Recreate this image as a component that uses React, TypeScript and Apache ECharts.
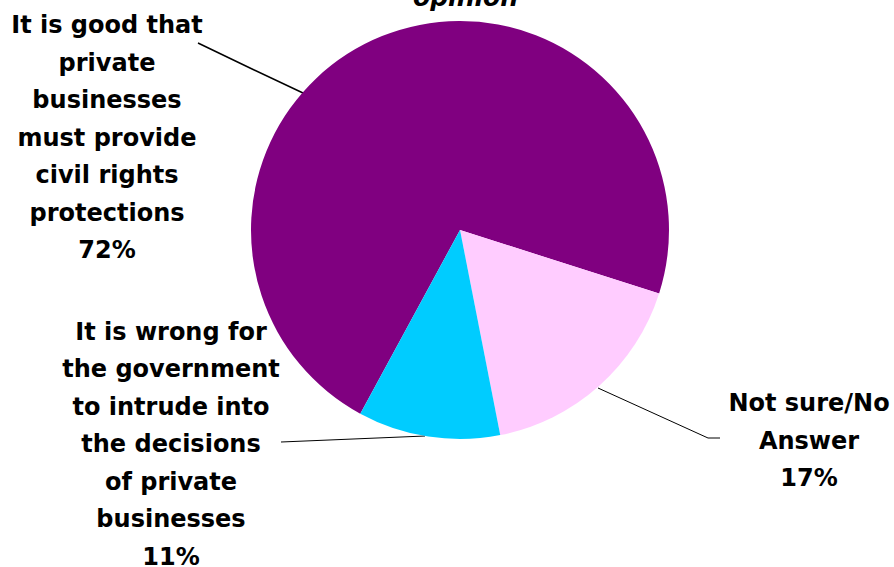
import React, { useEffect, useRef } from "react";
import * as echarts from "echarts";

const categories = [
  "It is good that\nprivate\nbusinesses\nmust provide\ncivil rights\nprotections",
  "Not sure/No\nAnswer",
  "It is wrong for\nthe government\nto intrude into\nthe decisions\nof private\nbusinesses",
];
const values = [72, 17, 11];
const colors = ["#800080", "#FFCCFF", "#00CCFF"];
const titleText = "opinion";

// label layout (position of label blocks and leader lines)
const labelCenters = [
  [107, 137.5],
  [809, 440.5],
  [171, 444],
];
const leaderLines = [
  [[303, 93], [250, 68], [198, 43]],
  [[598, 388], [708, 438], [720, 438]],
  [[425, 436], [353, 439], [281, 442]],
];
const leaderWidths = [1.5, 1, 1];

export default function App() {
  const ref = useRef<HTMLDivElement>(null);
  useEffect(() => {
    if (!ref.current) return;
    const chart = echarts.init(ref.current, null, { renderer: "svg" });
    chart.setOption({
      animation: false,
      backgroundColor: "#ffffff",
      title: {
        text: titleText,
        left: 413,
        top: -15,
        padding: 0,
        textStyle: {
          fontFamily: "DejaVu Sans",
          fontSize: 25,
          fontWeight: "bold",
          fontStyle: "italic",
          color: "#000",
        },
      },
      series: [
        {
          type: "pie",
          center: [460, 230],
          radius: 209,
          startAngle: 241.5,
          clockwise: true,
          avoidLabelOverlap: false,
          data: categories.map((name, i) => ({
            name,
            value: values[i],
            itemStyle: { color: colors[i] },
            labelLine: { lineStyle: { width: leaderWidths[i] } },
          })),
          label: {
            show: true,
            position: "outside",
            formatter: "{b}\n{c}%",
            fontFamily: "DejaVu Sans",
            fontSize: 24,
            fontWeight: "bold",
            color: "#000",
            lineHeight: 37.5,
            align: "center",
          },
          labelLine: {
            show: true,
            lineStyle: { color: "#000", width: 1 },
          },
          labelLayout: (params: any) => {
            const i = params.dataIndex;
            return {
              x: labelCenters[i][0],
              y: labelCenters[i][1],
              align: "center",
              verticalAlign: "middle",
              labelLinePoints: leaderLines[i],
            };
          },
          emphasis: { disabled: true },
        },
      ],
    });
    return () => chart.dispose();
  }, []);
  return (
    <div
      ref={ref}
      style={{ position: "fixed", left: 0, top: 0, width: 894, height: 567 }}
    />
  );
}
